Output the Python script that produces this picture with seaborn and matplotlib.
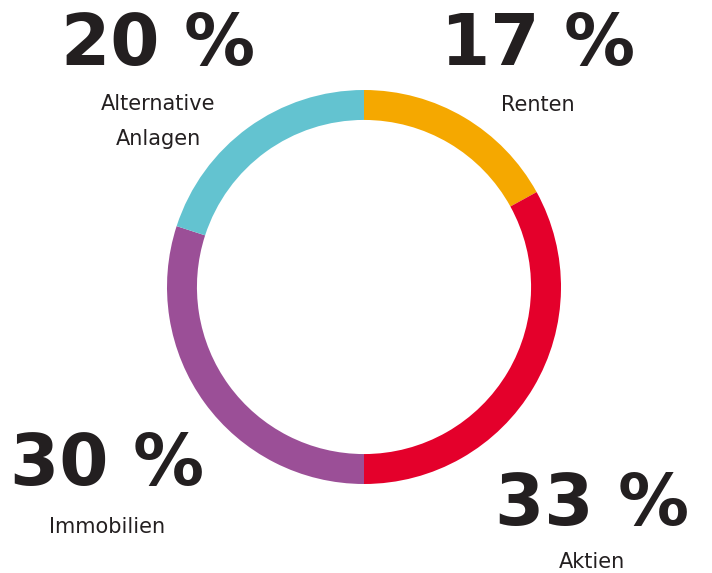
import matplotlib
matplotlib.use("Agg")
import matplotlib.pyplot as plt
import seaborn as sns

sns.set_theme(style="white")
plt.rcParams['font.family'] = ['DejaVu Sans']

categories = ["Renten", "Aktien", "Immobilien", "Alternative\nAnlagen"]
values = [17, 33, 30, 20]
pct_labels = ["17 %", "33 %", "30 %", "20 %"]
colors = ["#f5a800", "#e4002b", "#9b4f97", "#63c3d0"]

W, H = 712, 573
fig = plt.figure(figsize=(W / 100, H / 100), dpi=100)
fig.patch.set_facecolor("white")

cx, cy, r = 364, 287, 197
ax = fig.add_axes([(cx - r) / W, (H - cy - r) / H, 2 * r / W, 2 * r / H])
ax.pie(values, colors=colors, startangle=90, counterclock=False, radius=1,
       wedgeprops=dict(width=0.152, linewidth=0))
ax.set_xlim(-1, 1)
ax.set_ylim(-1, 1)
ax.set_aspect("equal")
ax.axis("off")

# pixel positions: center x, number baseline, first label baseline
pos = [(538, 65, 111), (592, 525, 568), (107, 485, 533), (158, 65, 110)]
line_gap = 35
txtc = "#231f20"
for (x, yn, yl), pl, cat in zip(pos, pct_labels, categories):
    fig.text(x / W, 1 - yn / H, pl, ha="center", va="baseline", fontsize=51,
             fontweight="bold", color=txtc)
    for i, line in enumerate(cat.split("\n")):
        fig.text(x / W, 1 - (yl + i * line_gap) / H, line, ha="center",
                 va="baseline", fontsize=15, color=txtc)

fig.savefig("out.png", dpi=100)
